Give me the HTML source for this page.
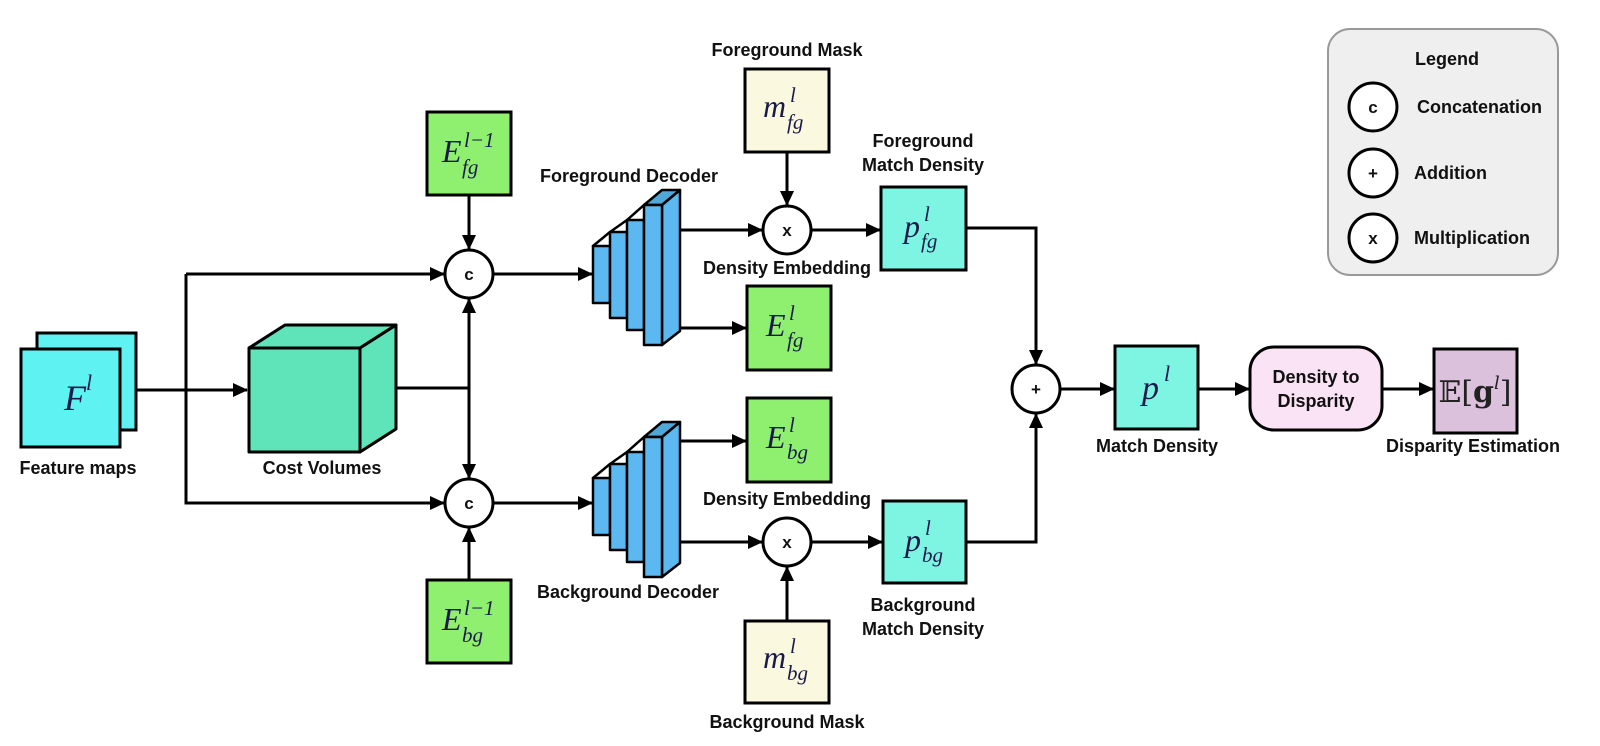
<!DOCTYPE html>
<html><head><meta charset="utf-8"><style>
html,body{margin:0;padding:0;background:#fff;}
svg{display:block;}
.lb{font-family:"Liberation Sans",Arial,sans-serif;font-weight:bold;font-size:18px;fill:#111;text-anchor:middle;}
.m{font-family:"Liberation Serif","DejaVu Serif",serif;font-style:italic;fill:#1a1a4a;}
.op{font-family:"Liberation Sans",Arial,sans-serif;font-weight:bold;font-size:17px;fill:#111;text-anchor:middle;}
</style></head><body>
<svg width="1600" height="746" viewBox="0 0 1600 746" xmlns="http://www.w3.org/2000/svg">
<defs>
<marker id="a" markerWidth="15" markerHeight="14" refX="14" refY="7" orient="auto" markerUnits="userSpaceOnUse" viewBox="0 0 15 14">
<path d="M0,0 L15,7 L0,14 z" fill="#000"/></marker>
</defs>
<g stroke="#000" stroke-width="3" fill="none">
<line x1="136" y1="390" x2="247" y2="390" marker-end="url(#a)"/>
<line x1="186" y1="274" x2="444" y2="274" marker-end="url(#a)"/>
<polyline points="186,274 186,503 444,503" marker-end="url(#a)"/>
<line x1="396" y1="388" x2="469" y2="388"/>
<line x1="469" y1="388" x2="469" y2="299" marker-end="url(#a)"/>
<line x1="469" y1="388" x2="469" y2="478" marker-end="url(#a)"/>
<line x1="469" y1="195" x2="469" y2="249" marker-end="url(#a)"/>
<line x1="469" y1="580" x2="469" y2="528" marker-end="url(#a)"/>
<line x1="494" y1="274" x2="592" y2="274" marker-end="url(#a)"/>
<line x1="494" y1="503" x2="592" y2="503" marker-end="url(#a)"/>
<line x1="680" y1="230" x2="762" y2="230" marker-end="url(#a)"/>
<line x1="680" y1="328" x2="746" y2="328" marker-end="url(#a)"/>
<line x1="680" y1="441" x2="746" y2="441" marker-end="url(#a)"/>
<line x1="680" y1="542" x2="762" y2="542" marker-end="url(#a)"/>
<line x1="787" y1="152" x2="787" y2="205" marker-end="url(#a)"/>
<line x1="787" y1="621" x2="787" y2="567" marker-end="url(#a)"/>
<line x1="812" y1="230" x2="880" y2="230" marker-end="url(#a)"/>
<line x1="812" y1="542" x2="882" y2="542" marker-end="url(#a)"/>
<polyline points="966,228 1036,228 1036,364" marker-end="url(#a)"/>
<polyline points="966,542 1036,542 1036,414" marker-end="url(#a)"/>
<line x1="1061" y1="389" x2="1114" y2="389" marker-end="url(#a)"/>
<line x1="1198" y1="389" x2="1249" y2="389" marker-end="url(#a)"/>
<line x1="1382" y1="389" x2="1433" y2="389" marker-end="url(#a)"/>
</g>

<rect x="37" y="333" width="99" height="97" fill="#5ff2f2" stroke="#000" stroke-width="3"/>
<rect x="21" y="349" width="99" height="98" fill="#5ff2f2" stroke="#000" stroke-width="3"/>
<text x="64" y="410" class="m" font-size="36">F</text><text x="86" y="390" class="m" font-size="22">l</text>
<text x="78" y="474" class="lb">Feature maps</text>

<g stroke="#000" stroke-width="3" fill="#5fe3b8" stroke-linejoin="round">
<polygon points="249,348 285,325 396,325 360,348"/>
<polygon points="360,348 396,325 396,429 360,452"/>
<rect x="249" y="348" width="111" height="104"/>
</g>
<text x="322" y="474" class="lb">Cost Volumes</text>

<circle cx="469" cy="274" r="24" fill="#fff" stroke="#000" stroke-width="3"/>
<text x="469" y="280" class="op">c</text>
<circle cx="469" cy="503" r="24" fill="#fff" stroke="#000" stroke-width="3"/>
<text x="469" y="509" class="op">c</text>

<rect x="427" y="112" width="84" height="83" fill="#8ff06f" stroke="#000" stroke-width="3"/>
<text x="442" y="162" class="m" font-size="32">E</text><text x="464" y="147" class="m" font-size="21">l−1</text><text x="462" y="174" class="m" font-size="21">fg</text>
<rect x="427" y="580" width="84" height="83" fill="#8ff06f" stroke="#000" stroke-width="3"/>
<text x="442" y="630" class="m" font-size="32">E</text><text x="464" y="615" class="m" font-size="21">l−1</text><text x="462" y="642" class="m" font-size="21">bg</text>

<g id="dec" stroke="#000" stroke-width="2.5" fill="#5cb8f0" stroke-linejoin="round">
<polygon points="593,246 610,232 627,220 644,205 662,190 680,190 662,205 644,205 627,220 610,232 593,246" fill="#4fa8d8"/>
<polygon points="662,205 680,190 680,331 662,345"/>
<rect x="593" y="246" width="17" height="57"/>
<rect x="610" y="232" width="17" height="86"/>
<rect x="627" y="220" width="17" height="110"/>
<rect x="644" y="205" width="18" height="140"/>
</g>
<use href="#dec" transform="translate(0,232)"/>
<text x="629" y="182" class="lb">Foreground Decoder</text>
<text x="628" y="598" class="lb">Background Decoder</text>

<rect x="745" y="69" width="84" height="83" fill="#fbf8e0" stroke="#000" stroke-width="3"/>
<text x="763" y="117" class="m" font-size="32">m</text><text x="790" y="102" class="m" font-size="21">l</text><text x="787" y="129" class="m" font-size="21">fg</text>
<text x="787" y="56" class="lb">Foreground Mask</text>
<rect x="745" y="621" width="84" height="82" fill="#fbf8e0" stroke="#000" stroke-width="3"/>
<text x="763" y="668" class="m" font-size="32">m</text><text x="790" y="653" class="m" font-size="21">l</text><text x="787" y="680" class="m" font-size="21">bg</text>
<text x="787" y="728" class="lb">Background Mask</text>

<circle cx="787" cy="230" r="24" fill="#fff" stroke="#000" stroke-width="3"/>
<text x="787" y="236" class="op">x</text>
<circle cx="787" cy="542" r="24" fill="#fff" stroke="#000" stroke-width="3"/>
<text x="787" y="548" class="op">x</text>
<text x="787" y="274" class="lb">Density Embedding</text>
<text x="787" y="505" class="lb">Density Embedding</text>

<rect x="747" y="286" width="84" height="84" fill="#8ff06f" stroke="#000" stroke-width="3"/>
<text x="766" y="336" class="m" font-size="32">E</text><text x="789" y="320" class="m" font-size="21">l</text><text x="787" y="347" class="m" font-size="21">fg</text>
<rect x="747" y="398" width="84" height="84" fill="#8ff06f" stroke="#000" stroke-width="3"/>
<text x="766" y="448" class="m" font-size="32">E</text><text x="789" y="432" class="m" font-size="21">l</text><text x="787" y="459" class="m" font-size="21">bg</text>

<rect x="881" y="187" width="85" height="83" fill="#7ef5e2" stroke="#000" stroke-width="3"/>
<text x="904" y="237" class="m" font-size="32">p</text><text x="924" y="221" class="m" font-size="21">l</text><text x="921" y="248" class="m" font-size="21">fg</text>
<text x="923" y="147" class="lb">Foreground</text><text x="923" y="171" class="lb">Match Density</text>
<rect x="883" y="501" width="83" height="82" fill="#7ef5e2" stroke="#000" stroke-width="3"/>
<text x="905" y="551" class="m" font-size="32">p</text><text x="925" y="535" class="m" font-size="21">l</text><text x="922" y="562" class="m" font-size="21">bg</text>
<text x="923" y="611" class="lb">Background</text><text x="923" y="635" class="lb">Match Density</text>

<circle cx="1036" cy="389" r="24" fill="#fff" stroke="#000" stroke-width="3"/>
<text x="1036" y="395" class="op">+</text>

<rect x="1115" y="346" width="83" height="83" fill="#7ef5e2" stroke="#000" stroke-width="3"/>
<text x="1142" y="399" class="m" font-size="34">p</text><text x="1164" y="381" class="m" font-size="22">l</text>
<text x="1157" y="452" class="lb">Match Density</text>

<rect x="1250" y="347" width="132" height="83" rx="24" fill="#fbe3f6" stroke="#000" stroke-width="3"/>
<text x="1316" y="383" class="lb" font-size="17">Density to</text>
<text x="1316" y="407" class="lb" font-size="17">Disparity</text>

<rect x="1434" y="349" width="83" height="84" fill="#dcc1dc" stroke="#000" stroke-width="3"/>
<text x="1475" y="402" font-family="'DejaVu Serif','Liberation Serif',serif" font-size="30" text-anchor="middle" fill="#222">𝔼[<tspan font-weight="bold">g</tspan><tspan font-size="18" dy="-13" font-style="italic">l</tspan><tspan dy="13">]</tspan></text>
<text x="1473" y="452" class="lb">Disparity Estimation</text>

<rect x="1328" y="29" width="230" height="246" rx="22" fill="#efefef" stroke="#999" stroke-width="2"/>
<text x="1447" y="65" class="lb" font-size="17">Legend</text>
<circle cx="1373" cy="107" r="24" fill="#fff" stroke="#000" stroke-width="3"/><text x="1373" y="113" class="op">c</text>
<circle cx="1373" cy="173" r="24" fill="#fff" stroke="#000" stroke-width="3"/><text x="1373" y="179" class="op">+</text>
<circle cx="1373" cy="238" r="24" fill="#fff" stroke="#000" stroke-width="3"/><text x="1373" y="244" class="op">x</text>
<text x="1417" y="113" class="lb" style="text-anchor:start">Concatenation</text>
<text x="1414" y="179" class="lb" style="text-anchor:start">Addition</text>
<text x="1414" y="244" class="lb" style="text-anchor:start">Multiplication</text>
</svg>
</body></html>
